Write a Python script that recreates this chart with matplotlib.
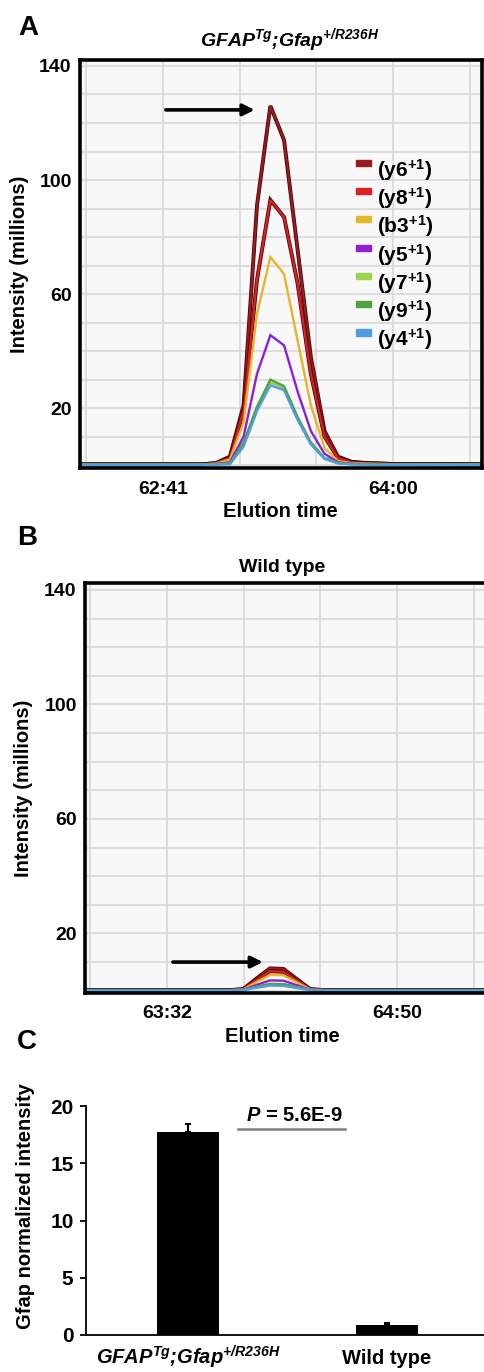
import numpy as np
import matplotlib
matplotlib.use("Agg")
import matplotlib.pyplot as plt
import matplotlib.patches as mpatches
import matplotlib.patheffects as pe

plt.rcParams["font.family"] = ["Liberation Sans", "DejaVu Sans"]
plt.rcParams["font.weight"] = "bold"
plt.rcParams["axes.labelweight"] = "bold"
plt.rcParams["mathtext.fontset"] = "custom"
plt.rcParams["mathtext.rm"] = "Liberation Sans:bold"
plt.rcParams["mathtext.bf"] = "Liberation Sans:bold"
plt.rcParams["mathtext.it"] = "Liberation Sans:italic:bold"
plt.rcParams["mathtext.bfit"] = "Liberation Sans:italic:bold"

# ---- data -------------------------------------------------------------
ion_names = ["y6", "y8", "b3", "y5", "y7", "y9", "y4"]
ion_colors = ["#9a1a1f", "#dc1f1f", "#e6b52c", "#8f1fd6", "#9bd24f", "#4ea33c", "#4d9de0"]

# panel A: elution time (s) and intensity (millions)
time_a = [3733, 3775, 3779.4, 3784.0, 3788.7, 3793.3, 3797.9, 3802.6, 3807.2,
          3811.8, 3816.5, 3821.1, 3825.7, 3830.3, 3840, 3871]
int_a = {
    "y6": [0.3, 0.3, 0.8, 3.0, 21, 91, 126, 114, 76, 38, 12, 3.0, 1.2, 0.8, 0.4, 0.3],
    "y8": [0.3, 0.3, 0.7, 2.5, 19, 65, 93, 87, 64, 32, 10, 2.5, 1.0, 0.7, 0.4, 0.3],
    "b3": [0.2, 0.2, 0.6, 2.0, 15, 53, 73, 67, 44, 21, 6, 1.5, 0.7, 0.5, 0.3, 0.2],
    "y5": [0.2, 0.2, 0.4, 1.0, 10, 32, 45.6, 42, 26, 12, 4, 1.0, 0.5, 0.3, 0.2, 0.2],
    "y7": [0.2, 0.2, 0.3, 0.5, 7.5, 19.5, 29, 27, 16.5, 7.5, 2.3, 0.7, 0.3, 0.2, 0.2, 0.2],
    "y9": [0.2, 0.2, 0.3, 0.6, 8, 20.5, 30, 27.7, 17, 8, 2.5, 0.8, 0.4, 0.3, 0.2, 0.2],
    "y4": [0.1, 0.1, 0.2, 0.3, 6.5, 19, 28, 26.3, 16, 7.3, 2.2, 0.6, 0.3, 0.2, 0.1, 0.1],
}
xgrid_a = [3734.67, 3761, 3787.33, 3813.67, 3840, 3866.33]
xlabels_a = ["", "62:41", "", "", "64:00", ""]

# panel B
time_b = [3784, 3833.2, 3837.8, 3842.3, 3846.9, 3851.5, 3856.1, 3860.6, 3865.2, 3924]
int_b = {
    "y6": [0.2, 0.2, 0.5, 4.2, 7.8, 7.6, 4.0, 0.5, 0.2, 0.2],
    "y8": [0.2, 0.2, 0.5, 3.7, 6.8, 6.6, 3.5, 0.5, 0.2, 0.2],
    "b3": [0.2, 0.2, 0.4, 3.0, 5.5, 5.4, 2.9, 0.4, 0.2, 0.2],
    "y5": [0.2, 0.2, 0.3, 2.0, 3.6, 3.5, 1.9, 0.3, 0.2, 0.2],
    "y7": [0.2, 0.2, 0.2, 1.3, 2.3, 2.2, 1.2, 0.2, 0.2, 0.2],
    "y9": [0.2, 0.2, 0.2, 1.4, 2.4, 2.3, 1.3, 0.2, 0.2, 0.2],
    "y4": [0.1, 0.1, 0.2, 1.0, 1.8, 1.7, 0.9, 0.2, 0.1, 0.1],
}
xgrid_b = [3786, 3812, 3838, 3864, 3890, 3916]
xlabels_b = ["", "63:32", "", "", "64:50", ""]

# panel C
genotype = r"$\mathbfit{GFAP^{Tg}}$;$\mathbfit{Gfap^{{+}/R236H}}$"
groups = [genotype, "Wild type"]
means = [17.7, 0.87]
errs = [0.75, 0.2]

# annotation arrows (data coords)
arrow_a = ((3762, 124.6), (3792.5, 124.6))
arrow_b = ((3814, 10), (3844.5, 10))

# ---- layout helpers --------------------------------------------------
W, H = 485, 1372
fig = plt.figure(figsize=(W / 100, H / 100), dpi=100)


def fx(x):
    return x / W


def fy(y):
    return 1 - y / H


def add_axes(l, t, r, b):
    return fig.add_axes([l / W, 1 - b / H, (r - l) / W, (b - t) / H])


def chromatogram(ax, t, data, xlim, ylim, xgrid, xlabels, arrow):
    ax.set_facecolor("#f8f8f8")
    for name, col in zip(ion_names, ion_colors):
        kw = {}
        if name in ("y6", "y8"):
            kw["path_effects"] = [pe.Stroke(linewidth=2.8, foreground="#3a0808"), pe.Normal()]
        ax.plot(t, data[name], color=col, lw=1.7, solid_joinstyle="miter", **kw)
    ax.set_xlim(*xlim)
    ax.set_ylim(*ylim)
    yt = list(range(0, 141, 10))
    ax.set_yticks(yt)
    ax.set_yticklabels([str(v) if v in (20, 60, 100, 140) else "" for v in yt])
    ax.set_xticks(xgrid)
    ax.set_xticklabels(xlabels)
    ax.tick_params(axis="y", length=0, labelsize=14, pad=6)
    ax.tick_params(axis="x", length=0, labelsize=14, pad=9)
    ax.grid(color="#d6d6d6", lw=1.1)
    ax.set_axisbelow(True)
    for s in ax.spines.values():
        s.set_linewidth(2.6)
        s.set_color("black")
    ax.annotate("", xy=arrow[1], xytext=arrow[0],
                arrowprops=dict(arrowstyle="-|>", lw=2.6, color="black",
                                mutation_scale=17, shrinkA=0, shrinkB=0))


# ---- panel A ---------------------------------------------------------
ax_a = add_axes(80, 60, 482, 468)
chromatogram(ax_a, time_a, int_a, (3732.5, 3870.6), (-1.0, 142.1),
             xgrid_a, xlabels_a, arrow_a)
fig.text(fx(28), fy(28), "A", fontsize=20, ha="center", va="center")
fig.text(fx(290), fy(40), genotype, fontsize=14, style="italic",
         ha="center", va="center")
fig.text(fx(20), fy(264), "Intensity (millions)", rotation=90, fontsize=14.5,
         ha="center", va="center")
fig.text(fx(280), fy(512), "Elution time", fontsize=14.5, ha="center", va="center")

# legend
for i, (name, col) in enumerate(zip(ion_names, ion_colors)):
    yc = 162.7 + i * 28.3
    fig.add_artist(mpatches.Rectangle((fx(356), fy(yc + 3)), 15 / W, 6 / H,
                                      transform=fig.transFigure, color=col))
    fig.text(fx(377), fy(yc + 7), "(" + name + r"$^{{+}1}$)", fontsize=15,
             ha="left", va="center")

# ---- panel B ---------------------------------------------------------
ax_b = add_axes(85, 583, 495, 993)
chromatogram(ax_b, time_b, int_b, (3784.2, 3923.2), (-0.8, 142.4),
             xgrid_b, xlabels_b, arrow_b)
fig.text(fx(27), fy(538), "B", fontsize=20, ha="center", va="center")
fig.text(fx(282), fy(568), "Wild type", fontsize=14, ha="center", va="center")
fig.text(fx(24), fy(788), "Intensity (millions)", rotation=90, fontsize=14.5,
         ha="center", va="center")
fig.text(fx(282), fy(1037), "Elution time", fontsize=14.5, ha="center", va="center")

# ---- panel C ---------------------------------------------------------
ax_c = add_axes(86, 1106, 485, 1335)
x = np.arange(len(groups))
ax_c.bar(x, means, width=0.31, color="black",
         yerr=[[0] * len(errs), errs],
         error_kw=dict(ecolor="black", elinewidth=1.5, capsize=2.5, capthick=1.5))
ax_c.set_ylim(0, 20)
ax_c.set_xlim(-0.513, 1.492)
ax_c.set_yticks([0, 5, 10, 15, 20])
ax_c.set_xticks(x)
ax_c.set_xticklabels(groups)
for lbl in ax_c.get_xticklabels():
    lbl.set_va("baseline")
ax_c.get_xticklabels()[0].set_style("italic")
ax_c.tick_params(axis="y", length=4, width=1.3, labelsize=15, pad=5)
ax_c.tick_params(axis="x", length=0, labelsize=14.5, pad=21)
for side in ("top", "right"):
    ax_c.spines[side].set_visible(False)
for side in ("left", "bottom"):
    ax_c.spines[side].set_linewidth(1.3)
ax_c.plot([0.251, 0.789], [17.95, 17.95], color="#808080", lw=1.8, clip_on=False)
ax_c.text(0.535, 19.2, r"$\mathbfit{P}$ = 5.6E-9", fontsize=14.5,
          ha="center", va="center")
ax_c.set_ylabel("Gfap normalized intensity", fontsize=14.5)
ax_c.yaxis.set_label_coords((35 - 86) / 399, 0.565)
fig.text(fx(27), fy(1042), "C", fontsize=20, ha="center", va="center")

fig.savefig("out.png", dpi=100)
